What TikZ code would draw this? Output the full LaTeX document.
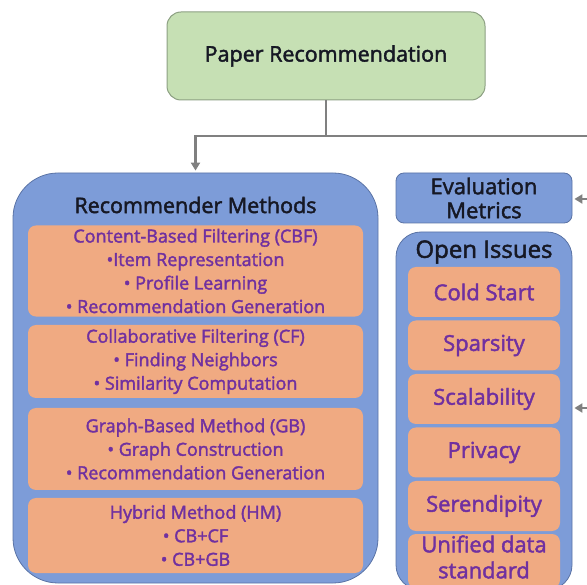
\documentclass[tikz,border=0pt]{standalone}
\usepackage{fontspec}
\setmainfont{Open Sans}
\newfontfamily\mediumfont{Open Sans}[FakeBold=2]
\usetikzlibrary{arrows.meta}

\definecolor{paperfill}{RGB}{198,224,180}
\definecolor{paperline}{RGB}{140,160,130}
\definecolor{groupfill}{RGB}{125,156,216}
\definecolor{groupline}{RGB}{90,115,165}
\definecolor{itemfill}{RGB}{240,170,130}
\definecolor{itemtext}{RGB}{112,48,160}
\definecolor{headtext}{RGB}{22,24,36}
\definecolor{linkgray}{RGB}{128,128,128}

\begin{document}
\begin{tikzpicture}[x=1pt, y=-1pt,
    topic/.style ={draw=paperline, fill=paperfill, rounded corners=14pt, line width=1pt,
                   text=headtext, font=\mediumfont\fontsize{21.5}{25}\selectfont},
    group/.style ={draw=groupline, fill=groupfill, line width=0.8pt},
    head/.style  ={text=headtext, align=center, font=\mediumfont\fontsize{21.5}{24}\selectfont},
    method/.style={fill=itemfill, rounded corners=8pt, text=itemtext, align=center,
                   minimum width=335pt, font=\mediumfont\fontsize{18}{23.5}\selectfont},
    issue/.style ={fill=itemfill, rounded corners=8pt, text=itemtext, align=center,
                   minimum width=152pt, minimum height=50pt, font=\mediumfont\fontsize{22}{26}\selectfont},
    link/.style  ={draw=linkgray, line width=2.8pt, -{Triangle[width=9pt,length=8pt]}}]
   \useasboundingbox (0,0) rectangle (587,585);
   \clip (0,0) rectangle (587,585);

   \node[topic, minimum width=318pt, minimum height=88pt] (paper) at (326,56) {Paper Recommendation};

   % left column
   \node[group, rounded corners=45pt, minimum width=365pt, minimum height=410pt] (methods) at (195.5,378) {};
   \node[head] (methodstitle) at (195.5,205) {Recommender Methods};
   \node[method, minimum height=88pt] (cbf) at (195.5,271)
     {Content-Based Filtering (CBF)\\•Item Representation\\• Profile Learning\\• Recommendation Generation};
   \node[method, minimum height=73pt] (cf) at (195.5,361.5)
     {Collaborative Filtering (CF)\\• Finding Neighbors\\• Similarity Computation};
   \node[method, minimum height=82pt] (gb) at (195.5,449)
     {Graph-Based Method (GB)\\• Graph Construction\\• Recommendation Generation};
   \node[method, minimum height=75pt] (hm) at (195.5,535.5)
     {Hybrid Method (HM)\\• CB+CF\\• CB+GB};

   % right column
   \node[group, head, rounded corners=8pt, minimum width=176pt, minimum height=50pt,
         font=\mediumfont\fontsize{22}{24}\selectfont] (metrics) at (484,198) {Evaluation\\Metrics};
   \node[group, rounded corners=25pt, minimum width=176pt, minimum height=358pt] (issues) at (484,411) {};
   \node[head, font=\mediumfont\fontsize{24}{26}\selectfont] (issuestitle) at (484,252) {Open Issues};
   \foreach \name/\y/\txt in {cold/292/Cold Start, sparse/345.5/Sparsity, scale/399/Scalability,
                              privacy/452.5/Privacy, seren/506/Serendipity}
     \node[issue] (\name) at (484,\y) {\txt};
   \node[issue, minimum height=54pt] (unified) at (484,561) {};
   \node[issue, fill=none] (unifiedtext) at (484,557) {Unified data\\standard};

   % connectors
   \coordinate (fork) at (326,136);
   \coordinate (feed) at (587,136);
   \coordinate (metricsin) at (587,199);
   \coordinate (issuesin) at (587,408);
   \draw[link, -] (paper) -- (fork);
   \draw[link, shorten >=2pt] (feed) -- (fork) -| (methods.north);
   \draw[link, shorten >=2pt] (metricsin) -- (metricsin -| metrics.east);
   \draw[link, shorten >=2pt] (issuesin) -- (issuesin -| issues.east);
\end{tikzpicture}
\end{document}
